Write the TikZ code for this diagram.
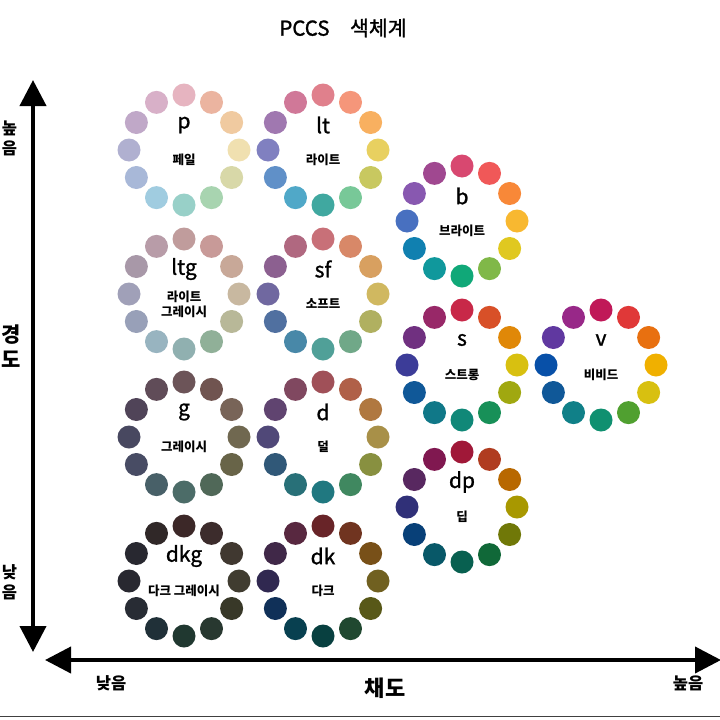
\documentclass[tikz,border=0pt]{standalone}
\usepackage{fontspec}
\setmainfont{Noto Sans CJK KR}
\newfontfamily\medfont{Noto Sans CJK KR}[FakeBold=1.2]
\usetikzlibrary{arrows.meta}
\tikzset{
  dot/.style={circle, inner sep=0pt, minimum size=23pt, draw=none},
  tone/.style={font=\medfont\fontsize{21}{24}\selectfont, inner sep=0pt},
  tonekr/.style={font=\fontsize{12.5}{16}\selectfont\bfseries, align=center, inner sep=0pt},
  sidelbl/.style={font=\fontsize{16.5}{20}\selectfont\bfseries, align=center, inner sep=0pt},
  bigsidelbl/.style={font=\fontsize{21}{25}\selectfont\bfseries, align=center, inner sep=0pt},
  axisline/.style={line width=4pt, {Triangle[length=26pt,width=26pt]}-{Triangle[length=26pt,width=26pt]}},
}
\newcommand\pccsring[6]{%
  \coordinate (#1) at (#2,#3);
  \foreach \c [count=\i] in {#4} {
    \pgfmathsetmacro\ang{30*(\i-1)}
    \edef\tmpdef{\noexpand\definecolor{dotc}{HTML}{\c}}\tmpdef
    \node[dot, fill=dotc] (#1-\i) at ({#2+55*sin(\ang)},{#3-55*cos(\ang)}) {};
  }
  \node[tone] (#1-t) at (#2,#3-25) {#5};
  \node[tonekr] (#1-k) at (#2,#3+10) {#6};
}
\begin{document}
\begin{tikzpicture}[x=1pt,y=-1pt]
\useasboundingbox[fill=white] (0,0) rectangle (720,720);

\node[font=\medfont\fontsize{20.5}{24}\selectfont] (title) at (343,28) {PCCS\quad 색체계};

% axes
\coordinate (ytop) at (33,80);
\coordinate (ybot) at (33,652);
\draw[axisline] (ybot) -- (ytop);
\coordinate (xleft) at (45,660);
\coordinate (xright) at (721,660);
\draw[axisline] (xleft) -- (xright);
\coordinate (sepl) at (0,716);
\coordinate (sepr) at (720,716);
\draw[line width=1pt, black!75] (sepl) -- (sepr);

\node[sidelbl] (hiL) at (9.5,138) {높\\음};
\node[bigsidelbl] (valL) at (11.5,346) {경\\도};
\node[sidelbl] (loL) at (9.5,582) {낮\\음};
\node[sidelbl] (loB) at (111,683) {낮음};
\node[font=\fontsize{22}{25}\selectfont\bfseries, inner sep=0pt] (chrB) at (385,688) {채도};
\node[sidelbl] (hiB) at (688,683) {높음};

% rings
\pccsring{p}{184}{150}{E6B4C0,EBB4A0,F0CAA0,F0E0B0,D8D8A8,A8D4B0,98D0C8,A0CCE0,A8B8D8,B0B0D0,C0A8C8,D8B0C8}{p}{페일}
\pccsring{lt}{323}{150}{E0808C,F5967A,F8B060,E8D060,C8C860,78C898,40A8A0,50A8C8,6090C8,8080C0,A078B0,D07898}{lt}{라이트}
\pccsring{b}{462}{221}{D84870,F05858,F88838,F8B830,E0C820,80B848,10A878,10989C,1080B0,4870C0,8858B0,A04890}{b}{브라이트}
\pccsring{ltg}{184}{294}{C09C9C,C89A98,C8A898,C8B8A0,B8B898,90B098,90B0B0,98B4C0,98A0B8,A0A0B8,A898A8,B89CA8}{ltg}{라이트\\[-1pt]그레이시}
\pccsring{sf}{323}{294}{C87078,D88868,D8A060,D0B860,B0B060,70A888,50A098,4888A8,5070A0,7068A0,8C6090,B06880}{sf}{소프트}
\pccsring{s}{462}{365}{C82848,D85028,E08808,D8C010,A0A810,189058,108878,107888,105898,3C3C98,703080,982868}{s}{스트롱}
\pccsring{v}{601}{365}{C01858,E03838,E87010,F0B000,D8C010,50A030,109070,108088,105898,0850A8,6038A0,982888}{v}{비비드}
\pccsring{g}{184}{437}{6C5458,705450,786458,706850,686448,506858,4C6C68,486068,484C64,484860,504458,604C58}{g}{그레이시}
\pccsring{d}{323}{437}{A05058,B06048,B07840,A89048,889040,408860,207880,287078,305878,504878,604470,804860}{d}{덜}
\pccsring{dp}{462}{507}{A01838,B03C20,B86800,A89800,707808,106838,086050,085868,084078,303078,582860,801850}{dp}{딥}
\pccsring{dkg}{184}{581}{3C2828,3C2C2C,403830,403C30,383828,283830,203830,203038,282C34,282830,282830,302828}{dkg}{다크 그레이시}
\pccsring{dk}{323}{581}{682428,703420,785018,706020,585818,204830,084040,084050,103058,302850,402848,582840}{dk}{다크}
\end{tikzpicture}
\end{document}
